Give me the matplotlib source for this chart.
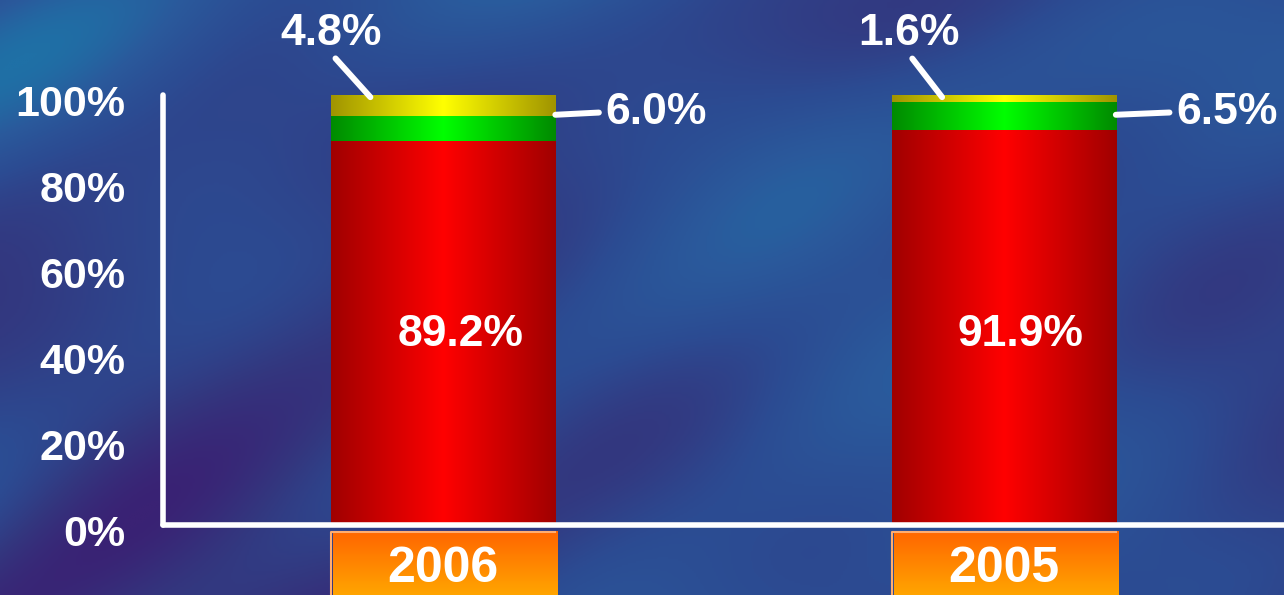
import numpy as np
import matplotlib.pyplot as plt
import matplotlib.transforms as mtransforms
from matplotlib.colors import LinearSegmentedColormap

plt.rcParams['font.family'] = ['Liberation Sans', 'DejaVu Sans']
plt.rcParams['font.weight'] = 'bold'

# data
anos = ['2006', '2005']
vermelho = [89.2, 91.9]
verde = [6.0, 6.5]
amarelo = [4.8, 1.6]

# posições dos rótulos (deslocamentos em unidades do eixo x)
amarelo_dx_ponto = [-0.13, -0.11]
amarelo_dx_texto = [-0.20, -0.17]
verde_dx_texto = [0.09, 0.108]

fig = plt.figure(figsize=(12.84, 5.95), dpi=100)

# fundo azul (textura)
bg = fig.add_axes([0, 0, 1, 1])
bg.axis('off')
yy, xx = np.mgrid[0:1:300j, 0:1:650j]
campo = (0.55 * np.sin(7 * xx + 5 * yy + 1.5 * np.sin(5 * yy))
         + 0.30 * np.sin(13 * xx - 6 * yy + 2.0)
         + 0.20 * np.sin(23 * xx + 17 * yy)
         + 0.6 * (1 - xx) * np.sin(18 * (xx + 0.6 * yy)))
campo = campo - 1.2 * yy * (1 - xx) - 0.4 * xx
cm_bg = LinearSegmentedColormap.from_list('bg', ['#3a2274', '#33377f', '#2c4b92', '#2a5a9c', '#1f70a6'])
bg.imshow(campo, cmap=cm_bg, aspect='auto', extent=[0, 1, 0, 1], origin='upper')
bg.set_xlim(0, 1)
bg.set_ylim(0, 1)

ax = fig.add_axes([163 / 1284, 1 - 525 / 595, 1 - 163 / 1284, (525 - 95) / 595])
ax.set_facecolor('none')

x = np.arange(len(anos))
largura = 0.4
b1 = ax.bar(x, vermelho, largura, color='#ff0000', zorder=2)
b2 = ax.bar(x, verde, largura, bottom=vermelho, color='#00ff00', zorder=2)
base3 = np.array(vermelho) + np.array(verde)
b3 = ax.bar(x, amarelo, largura, bottom=base3, color='#ffff00', zorder=2)

# gradiente horizontal em cada barra
grad = np.linspace(0, 1, 256).reshape(1, -1)
cores = [('#a00000', '#ff0000'), ('#008a00', '#00ff00'), ('#a09400', '#ffff00')]
for cont, (escuro, claro) in zip([b1, b2, b3], cores):
    cm = LinearSegmentedColormap.from_list('g', [escuro, claro, escuro])
    for p in cont.patches:
        x0, y0 = p.get_x(), p.get_y()
        ax.imshow(grad, cmap=cm, aspect='auto', zorder=3,
                  extent=[x0, x0 + p.get_width(), y0, y0 + p.get_height()])

ax.set_xlim(-0.5, 1.5)
ax.set_ylim(0, 100)

# eixos
for s in ['top', 'right']:
    ax.spines[s].set_visible(False)
for s in ['left', 'bottom']:
    ax.spines[s].set_color('white')
    ax.spines[s].set_linewidth(4)
    ax.spines[s].set_capstyle('round')
    ax.spines[s].set_zorder(4)

ax.set_xticks([])
ax.set_yticks(range(0, 101, 20), [f'{v}%' for v in range(0, 101, 20)])
ax.tick_params(axis='y', length=0, pad=27, labelsize=31, labelcolor='white')
desloca = mtransforms.ScaledTranslation(0, -5 / 100, fig.dpi_scale_trans)
for lab in ax.get_yticklabels():
    lab.set_transform(lab.get_transform() + desloca)

# caixas laranja dos anos
grad_v = np.linspace(0, 1, 64).reshape(-1, 1)
cm_lar = LinearSegmentedColormap.from_list('lar', ['#ff6600', '#ffa800'])
for i, p in enumerate(b1.patches):
    x0, w = p.get_x(), p.get_width()
    ax.imshow(grad_v, cmap=cm_lar, aspect='auto', extent=[x0 + 0.004, x0 + w + 0.004, -17, -1.6],
              origin='upper', clip_on=False, zorder=3)
    ax.plot([x0, x0, x0 + w], [-17, -1.6, -1.6], color='#ffad70', lw=1.5,
            clip_on=False, zorder=3)
    ax.text(x[i], -10.3, anos[i], ha='center', va='center', color='white',
            fontsize=36, clip_on=False, zorder=5)

# rótulos
for i in range(len(anos)):
    ax.text(x[i] + 0.03, 44.2, f'{vermelho[i]:.1f}%', ha='center', va='center',
            color='white', fontsize=32, zorder=5)
    ax.annotate(f'{amarelo[i]:.1f}%', xy=(x[i] + amarelo_dx_ponto[i], 99.5),
                xytext=(x[i] + amarelo_dx_texto[i], 114.4), ha='center', va='center',
                color='white', fontsize=32, annotation_clip=False, zorder=5,
                arrowprops=dict(arrowstyle='-', color='white', lw=4.3,
                                relpos=(0.5, 0), shrinkA=2, shrinkB=0))
    borda = x[i] + largura / 2
    ax.annotate(f'{verde[i]:.1f}%', xy=(borda, 95.4),
                xytext=(borda + verde_dx_texto[i], 96.0), ha='left', va='center',
                color='white', fontsize=32, annotation_clip=False, zorder=5,
                arrowprops=dict(arrowstyle='-', color='white', lw=4.3,
                                relpos=(0, 0.5), shrinkA=3, shrinkB=0))

fig.savefig('out.png', dpi=100)
